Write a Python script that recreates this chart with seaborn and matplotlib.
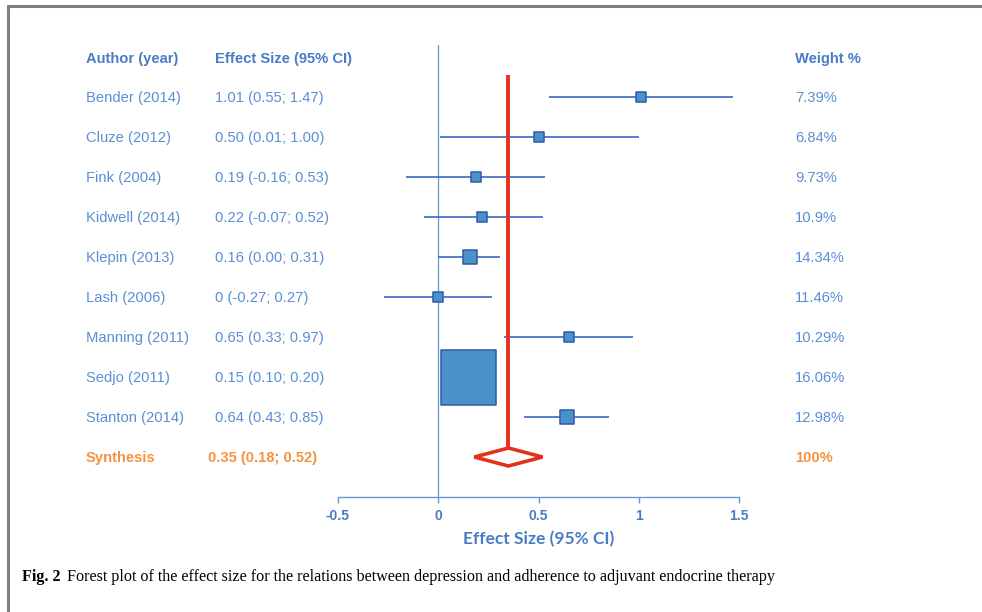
import matplotlib
matplotlib.use("Agg")
import matplotlib.pyplot as plt
import matplotlib.transforms as mtransforms
from matplotlib.lines import Line2D
import seaborn as sns
import pandas as pd

# ---------------- data ----------------
authors = ["Bender (2014)", "Cluze (2012)", "Fink (2004)", "Kidwell (2014)",
           "Klepin (2013)", "Lash (2006)", "Manning (2011)", "Sedjo (2011)",
           "Stanton (2014)"]
effects = [1.01, 0.50, 0.19, 0.22, 0.16, 0.0, 0.65, 0.15, 0.64]
ci_low = [0.55, 0.01, -0.16, -0.07, 0.00, -0.27, 0.33, 0.10, 0.43]
ci_high = [1.47, 1.00, 0.53, 0.52, 0.31, 0.27, 0.97, 0.20, 0.85]
effect_labels = ["1.01 (0.55; 1.47)", "0.50 (0.01; 1.00)", "0.19 (-0.16; 0.53)",
                 "0.22 (-0.07; 0.52)", "0.16 (0.00; 0.31)", "0 (-0.27; 0.27)",
                 "0.65 (0.33; 0.97)", "0.15 (0.10; 0.20)", "0.64 (0.43; 0.85)"]
weight_labels = ["7.39%", "6.84%", "9.73%", "10.9%", "14.34%", "11.46%",
                 "10.29%", "16.06%", "12.98%"]
synth_label = "Synthesis"
synth_effect = 0.35
synth_low = 0.18
synth_high = 0.52
synth_text = "0.35 (0.18; 0.52)"
synth_weight = "100%"
header_author = "Author (year)"
header_effect = "Effect Size (95% CI)"
header_weight = "Weight %"
xticks = [-0.5, 0, 0.5, 1, 1.5]
xtick_labels = ["-0.5", "0", "0.5", "1", "1.5"]
xlabel = "Effect Size (95% CI)"
caption_bold = "Fig. 2"
caption_text = "Forest plot of the effect size for the relations between depression and adherence to adjuvant endocrine therapy"

# ---------------- style ----------------
square_px = [11, 11, 11, 11, 15, 11, 11, 56, 15]   # displayed square side in pixels
TEXT_BLUE = "#5b8fd3"
HEAD_BLUE = "#4a7cc6"
LINE_BLUE = "#3a68c4"
AXIS_BLUE = "#6a95d6"
SQ_FILL = "#4a92c9"
SQ_EDGE = "#2f5aa6"
RED = "#e3321c"
ORANGE = "#f59242"

sns.set_theme(style="white")
plt.rcParams["font.family"] = ["Liberation Sans", "DejaVu Sans"]

W, H, DPI = 982, 612, 100
fig = plt.figure(figsize=(W / DPI, H / DPI), dpi=DPI)
fig.patch.set_facecolor("white")

def fx(px):
    return px / W

def fy(py):
    return 1 - py / H

# axes: x from -0.5 (px 338) to 1.5 (px 739); y from px 45 to 497
ax = fig.add_axes([fx(338), fy(497), fx(739) - fx(338), fy(45) - fy(497)])
ax.set_facecolor("none")
n = len(authors)
rows = list(range(n))
ax.set_xlim(-0.5, 1.5)
ax.set_ylim(10.0, -1.3)

# zero line
ax.axvline(0, color=AXIS_BLUE, lw=0.9, zorder=1)

# CI lines
ax.hlines(rows, ci_low, ci_high, color=LINE_BLUE, lw=1.2, zorder=2)

# squares
df = pd.DataFrame({"study": authors, "effect": effects, "row": rows})
pt_per_px = 72 / DPI
sizes = {a: ((s - 1) * pt_per_px) ** 2 for a, s in zip(authors, square_px)}
sns.scatterplot(data=df, x="effect", y="row", size="study", sizes=sizes,
                marker="s", color=SQ_FILL, edgecolor=SQ_EDGE, linewidth=1.1,
                legend=False, ax=ax, zorder=3)

# synthesis vertical line and diamond
syn_row = n
half_h = 0.225
ax.vlines(synth_effect, -0.55, syn_row - half_h, color=RED, lw=2.8, zorder=4)
ax.fill([synth_low, synth_effect, synth_high, synth_effect],
        [syn_row, syn_row - half_h, syn_row, syn_row + half_h],
        facecolor="white", edgecolor=RED, lw=2.6, joinstyle="miter", zorder=4)

# axes styling
for s in ["top", "right", "left"]:
    ax.spines[s].set_visible(False)
ax.spines["bottom"].set_color(AXIS_BLUE)
ax.spines["bottom"].set_linewidth(1.0)
ax.set_yticks([])
ax.set_xticks(xticks)
ax.set_xticklabels(xtick_labels, fontweight="bold", color=HEAD_BLUE, fontsize=10)
ax.tick_params(axis="x", direction="out", length=4.5, width=1.0, color=AXIS_BLUE,
               pad=4, bottom=True)
ax.set_xlabel(xlabel, fontsize=12.5, fontweight="bold", color=HEAD_BLUE,
              family=["Lato", "DejaVu Sans"], labelpad=6)
ax.set_ylabel("")

# text columns
tr = mtransforms.blended_transform_factory(fig.transFigure, ax.transData)
col_a, col_e, col_w = fx(86), fx(215), fx(795)
hdr_kw = dict(transform=tr, va="center", ha="left", fontsize=10.6,
              fontweight="bold", color=HEAD_BLUE)
ax.text(col_a, -0.96, header_author, **hdr_kw)
ax.text(col_e, -0.96, header_effect, **hdr_kw)
ax.text(col_w, -0.96, header_weight, **hdr_kw)
row_kw = dict(transform=tr, va="center", ha="left", fontsize=10.6, color=TEXT_BLUE)
for i in rows:
    ax.text(col_a, i + 0.02, authors[i], **row_kw)
    ax.text(col_e, i + 0.02, effect_labels[i], **row_kw)
    ax.text(col_w, i + 0.02, weight_labels[i], **row_kw)
syn_kw = dict(transform=tr, va="center", ha="left", fontsize=10.6,
              fontweight="bold", color=ORANGE)
ax.text(col_a, syn_row + 0.02, synth_label, **syn_kw)
ax.text(fx(208), syn_row + 0.02, synth_text, **syn_kw)
ax.text(col_w, syn_row + 0.02, synth_weight, **syn_kw)

# caption
cap_fs = 11.6
cap = fig.text(fx(22), fy(577), caption_bold, ha="left", va="center",
               fontsize=cap_fs, fontweight="bold", family=["Liberation Serif"], color="black")
fig.canvas.draw()
bb = cap.get_window_extent()
fig.text((bb.x1 + 6) / W, fy(577), caption_text, ha="left", va="center",
         fontsize=cap_fs, family=["Liberation Serif"], color="black")

# page frame (top and left edges)
fig.add_artist(Line2D([fx(7.5), 1.0], [fy(5.5), fy(5.5)], color="#7f7f7f", lw=2.2))
fig.add_artist(Line2D([fx(7.5), fx(7.5)], [fy(5.5), 0.0], color="#7f7f7f", lw=2.2))

fig.savefig("out.png", dpi=DPI, facecolor="white")
